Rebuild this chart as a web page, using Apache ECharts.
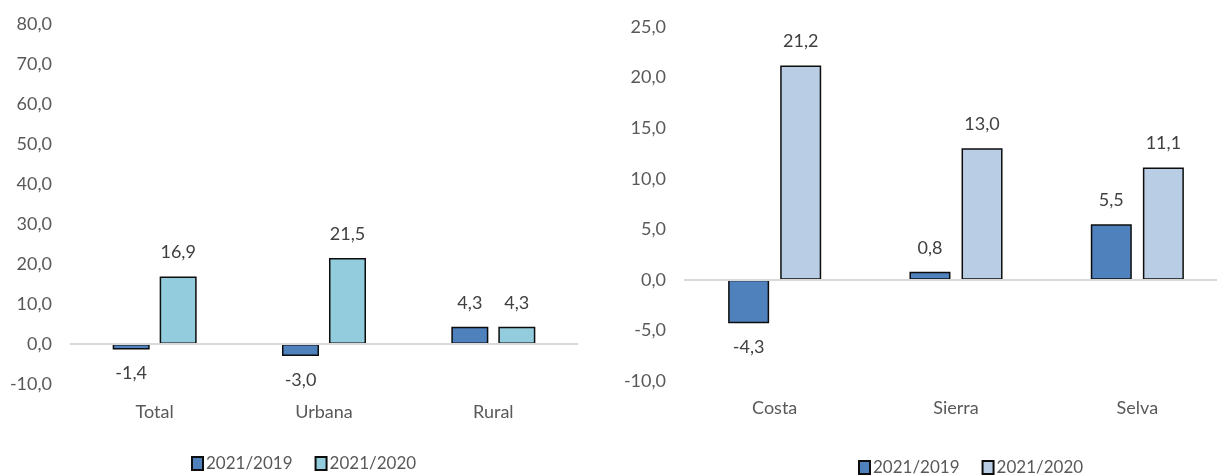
<!DOCTYPE html>
<html>
<head>
<meta charset="utf-8">
<script src="https://cdn.jsdelivr.net/npm/echarts@6/dist/echarts.min.js"></script>
<style>
html,body{margin:0;padding:0;background:#fff;overflow:hidden;width:1217px;height:475px;}
#c1{position:absolute;left:0;top:0;width:600px;height:475px;}
#c2{position:absolute;left:600px;top:0;width:640px;height:475px;}
</style>
</head>
<body>
<div id="c1"></div>
<div id="c2"></div>
<script>
const seriesNames = ['2021/2019', '2021/2020'];

const leftCategories = ['Total', 'Urbana', 'Rural'];
const left2019 = [-1.4, -3.0, 4.3];
const left2020 = [16.9, 21.5, 4.3];

const rightCategories = ['Costa', 'Sierra', 'Selva'];
const right2019 = [-4.3, 0.8, 5.5];
const right2020 = [21.2, 13.0, 11.1];

const FONT = "Lato, 'Liberation Sans', sans-serif";
const fmt = v => v.toFixed(1).replace('.', ',');

function items(arr) {
  return arr.map(v => ({
    value: v,
    label: { position: v < 0 ? 'bottom' : 'top' }
  }));
}

function makeOption(cfg) {
  const barBase = {
    type: 'bar',
    barWidth: cfg.barWidth,
    barGap: cfg.barGap,
    label: {
      show: true,
      distance: 15,
      formatter: p => fmt(p.value),
      color: '#404040',
      fontFamily: FONT,
      fontSize: 18
    }
  };
  return {
    animation: false,
    textStyle: { fontFamily: FONT },
    grid: cfg.grid,
    legend: {
      data: seriesNames,
      left: cfg.legendLeft,
      top: cfg.legendTop,
      itemWidth: 11,
      itemHeight: 13,
      itemGap: 22,
      icon: 'rect',
      textStyle: { color: '#595959', fontFamily: FONT, fontSize: 17, padding: [0,0,0,-2] }
    },
    xAxis: {
      type: 'category',
      data: cfg.categories,
      axisLine: { show: false, onZero: false },
      axisTick: { show: false },
      axisLabel: { color: '#595959', fontFamily: FONT, fontSize: 18, margin: cfg.xMargin }
    },
    yAxis: {
      type: 'value',
      min: cfg.min,
      max: cfg.max,
      interval: cfg.interval,
      axisLine: { show: false },
      axisTick: { show: false },
      splitLine: { show: false },
      axisLabel: {
        color: '#595959', fontFamily: FONT, fontSize: 18, margin: 18,
        formatter: v => fmt(v)
      }
    },
    series: [
      Object.assign({}, barBase, {
        name: seriesNames[0],
        data: items(cfg.s1),
        itemStyle: { color: '#4f81bd', borderColor: '#0d0d0d', borderWidth: 1.5 },
        markLine: {
          silent: true,
          symbol: ['none', 'none'],
          label: { show: false },
          lineStyle: { color: '#d9d9d9', width: 2, type: 'solid' },
          data: [{ yAxis: 0 }]
        }
      }),
      Object.assign({}, barBase, {
        name: seriesNames[1],
        data: items(cfg.s2),
        itemStyle: { color: cfg.color2, borderColor: '#0d0d0d', borderWidth: 1.5 }
      })
    ]
  };
}

const c1 = echarts.init(document.getElementById('c1'));
c1.setOption(makeOption({
  categories: leftCategories, s1: left2019, s2: left2020,
  color2: '#93cddd',
  grid: { left: 70, top: 24, width: 508, height: 360 },
  min: -10, max: 80, interval: 10,
  barWidth: 37, barGap: '27%',
  xMargin: 19,
  legendLeft: 186, legendTop: 450
}));

const c2 = echarts.init(document.getElementById('c2'));
c2.setOption(makeOption({
  categories: rightCategories, s1: right2019, s2: right2020,
  color2: '#b9cde5',
  grid: { left: 84, top: 27, width: 544, height: 354 },
  min: -10, max: 25, interval: 5,
  barWidth: 41, barGap: '27%',
  xMargin: 18,
  legendLeft: 253, legendTop: 454
}));
</script>
</body>
</html>
